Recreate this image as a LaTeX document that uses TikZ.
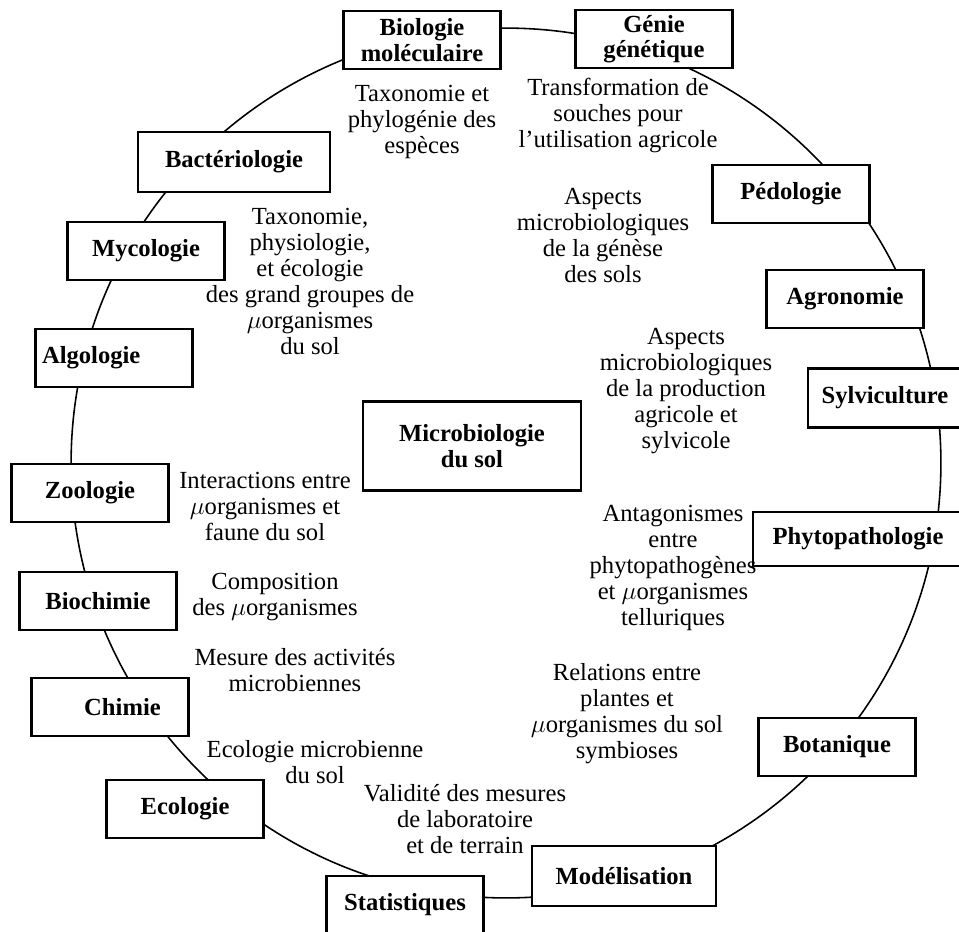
\documentclass[tikz,border=0pt]{standalone}
\usepackage{fontspec}
\setmainfont{Liberation Serif}
\begin{document}
\begin{tikzpicture}[x=0.02cm,y=-0.02cm,
  domaine/.style={draw, line width=1.6pt, fill=white, inner sep=0pt, minimum width=3.14cm, minimum height=1.16cm, align=center, font=\fontsize{14}{14.5}\selectfont\bfseries},
  theme/.style={align=center, inner sep=0pt, font=\fontsize{14}{14.8}\selectfont}]
\useasboundingbox (0,0) rectangle (959,931);
\coordinate (c) at (506,463);
\draw[line width=0.9pt] (c) circle[radius=8.7cm];

% disciplines round the circle
\node[domaine] (biomol) at (422,40) {Biologie\\moléculaire};
\node[domaine] (genie) at (654,39) {Génie\\génétique};
\node[domaine, minimum width=3.84cm, minimum height=1.2cm] (bact) at (234,162) {Bactériologie};
\node[domaine] (myco) at (146,251) {Mycologie};
\node[domaine] (pedo) at (791,194) {Pédologie};
\node[domaine] (agro) at (845,299) {Agronomie};
\node[domaine, text width=2.88cm, align=left] (algo) at (114,358) {Algologie};
\node[domaine, minimum width=3.08cm, minimum height=1.18cm] (sylv) at (885,398) {Sylviculture};
\node[domaine] (zoo) at (90,493) {Zoologie};
\node[domaine, minimum width=4.2cm, minimum height=1.08cm] (phyto) at (858,539) {Phytopathologie};
\node[domaine] (bioch) at (98,601) {Biochimie};
\node[domaine] (chim) at (110,707) {\hspace*{0.5cm}Chimie};
\node[domaine] (bota) at (837,747) {Botanique};
\node[domaine] (eco) at (185,809) {Ecologie};
\node[domaine, minimum width=3.68cm, minimum height=1.2cm] (model) at (624,876) {Modélisation};
\node[domaine] (stat) at (405,905) {Statistiques};

% centre
\node[domaine, minimum width=4.36cm, minimum height=1.78cm] (micro) at (472,446) {Microbiologie\\du sol};

% themes
\node[theme] (t1) at (422,122) {Taxonomie et\\phylogénie des\\espèces};
\node[theme] (t2) at (618,115) {Transformation de\\souches pour\\l'utilisation agricole};
\node[theme] (t3) at (603,235) {Aspects\\microbiologiques\\de la génèse\\des sols};
\node[theme] (t4) at (310,281) {Taxonomie,\\physiologie,\\et écologie\\des grand groupes de\\$\mu$organismes\\du sol};
\node[theme] (t5) at (686,391) {Aspects\\microbiologiques\\de la production\\agricole et\\sylvicole};
\node[theme] (t6) at (265,506) {Interactions entre\\$\mu$organismes et\\faune du sol};
\node[theme] (t7) at (275,597) {Composition\\des $\mu$organismes};
\node[theme] (t8) at (673,568) {Antagonismes\\entre\\phytopathogènes\\et $\mu$organismes\\telluriques};
\node[theme] (t9) at (295,670) {Mesure des activités\\microbiennes};
\node[theme] (t10) at (627,714) {Relations entre\\plantes et\\$\mu$organismes du sol\\symbioses};
\node[theme] (t11) at (315,762) {Ecologie microbienne\\du sol};
\node[theme] (t12) at (465,819) {Validité des mesures\\de laboratoire\\et de terrain};
\end{tikzpicture}
\end{document}
